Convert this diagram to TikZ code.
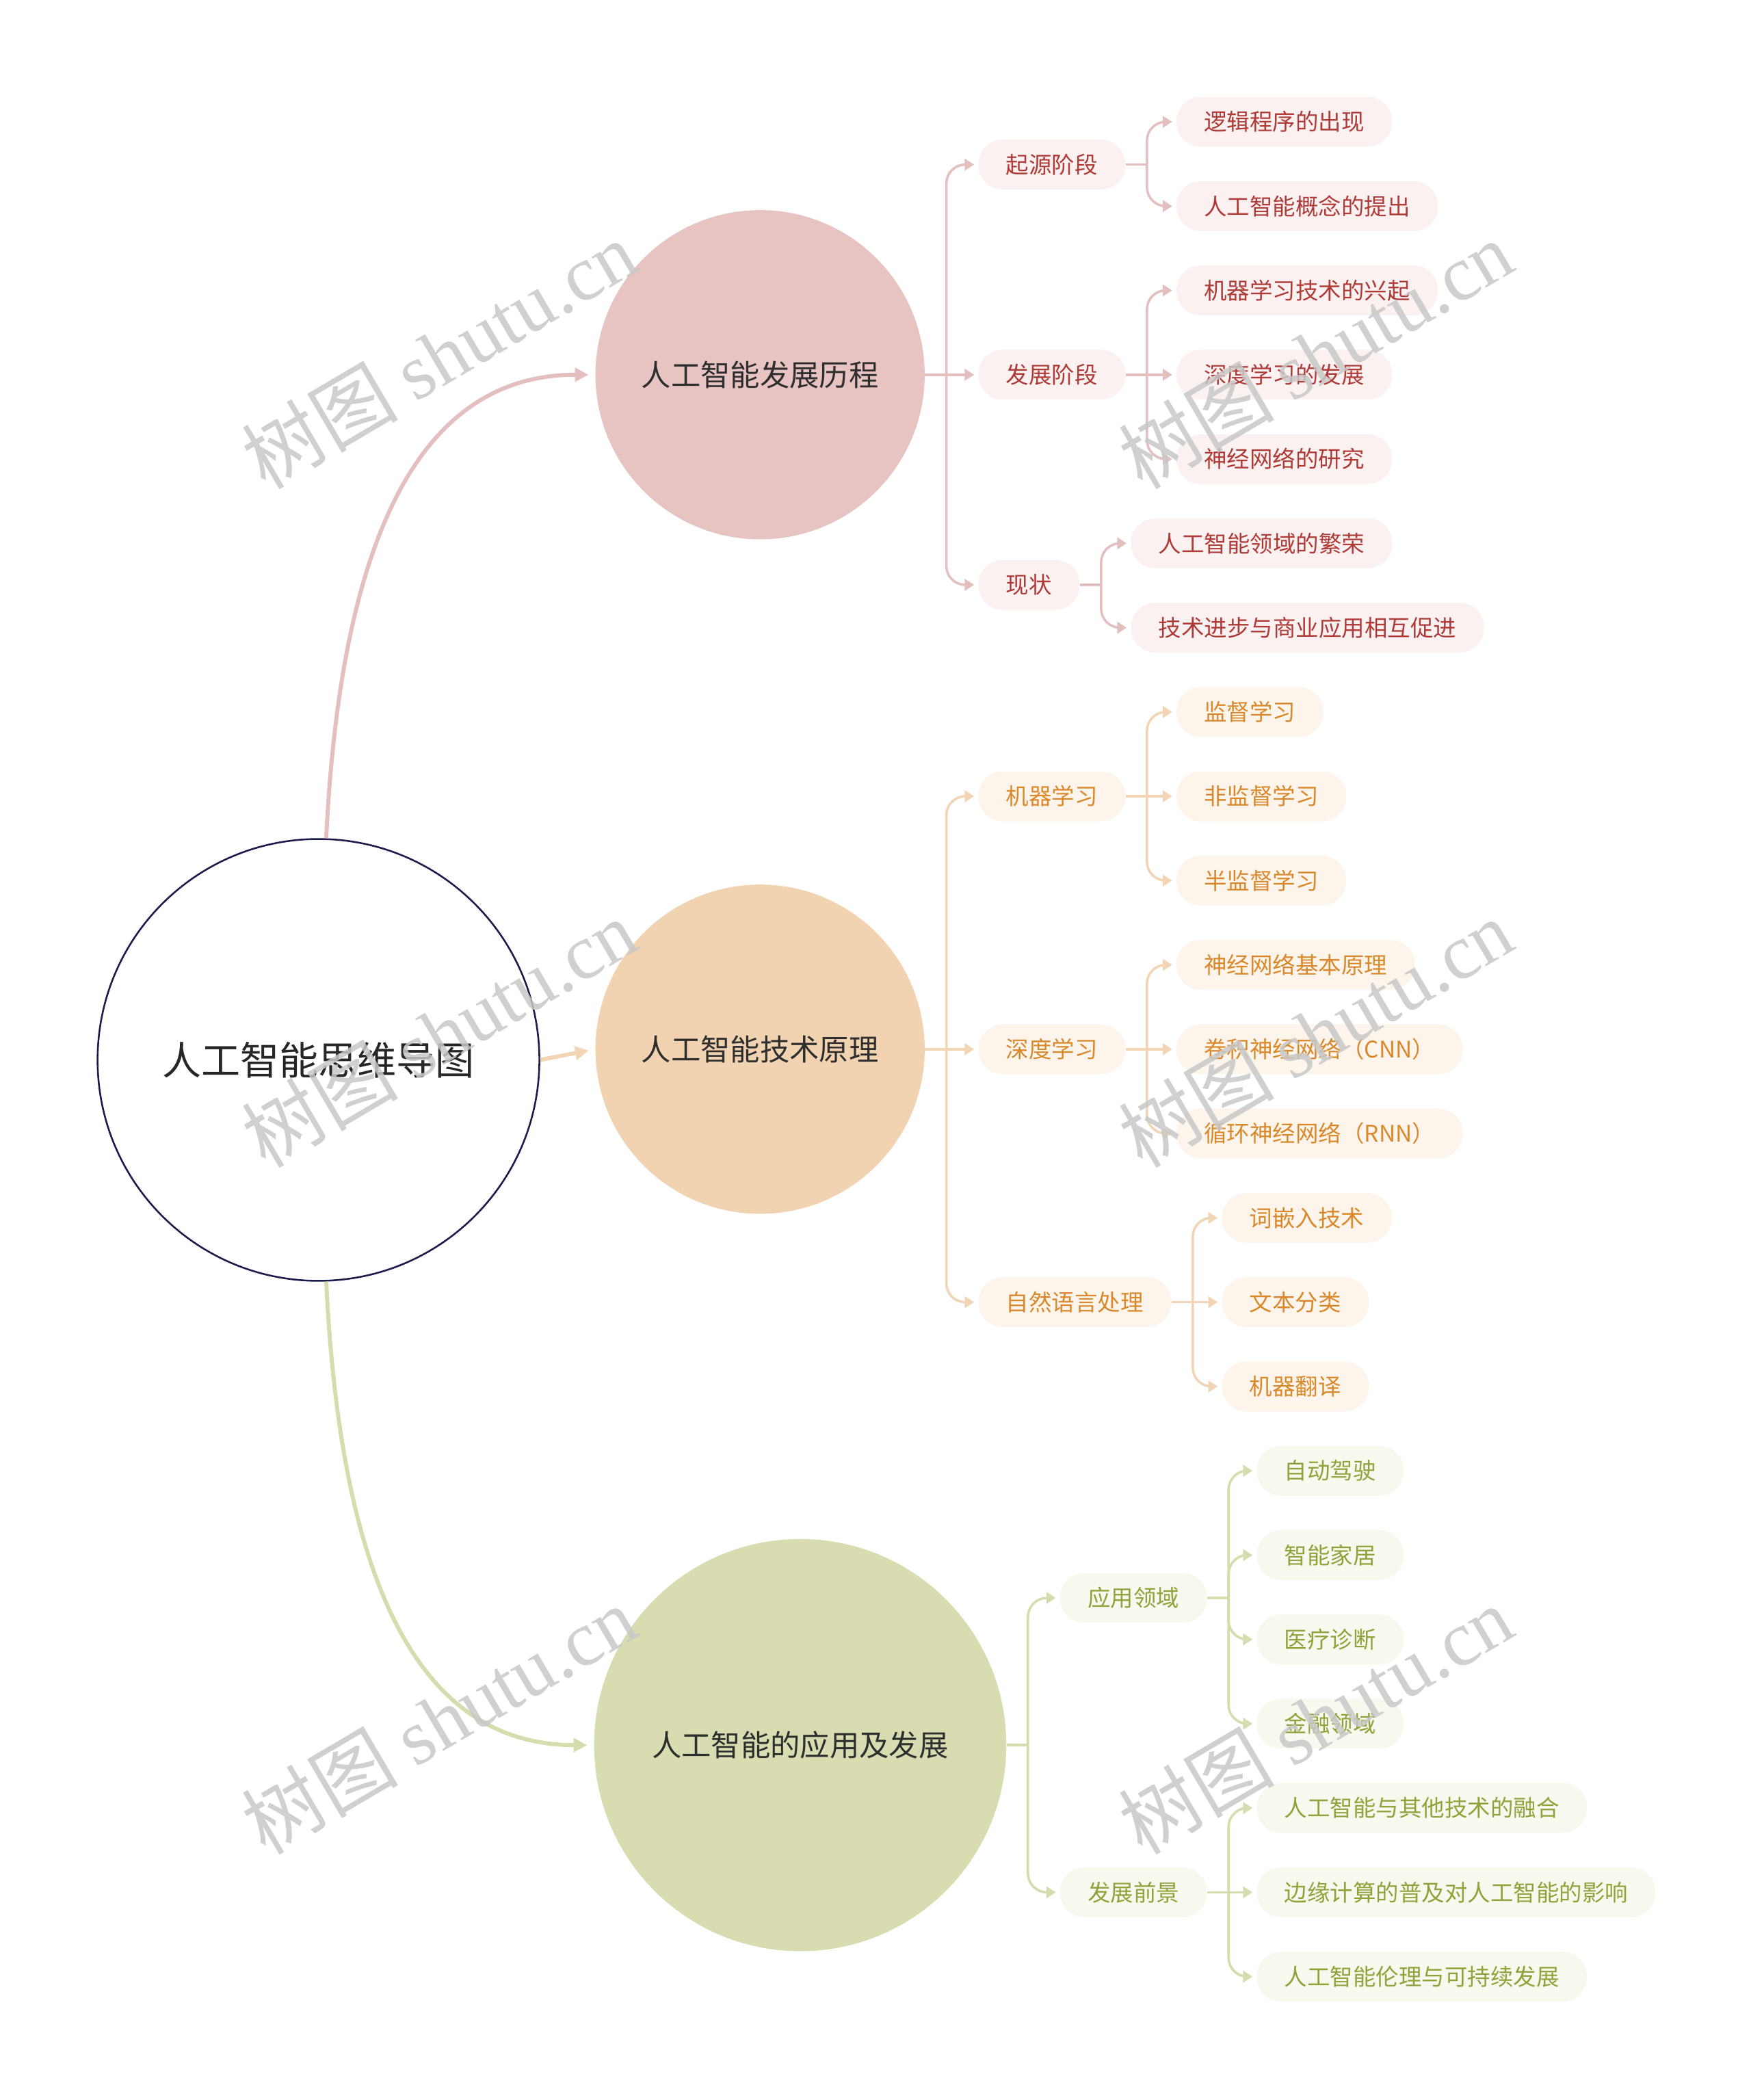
\documentclass[tikz,border=0pt]{standalone}
\usepackage{fontspec}
\setmainfont{Noto Sans CJK SC}
\newfontfamily\wmcjk{Noto Sans CJK SC}
\newfontfamily\wmlat{Liberation Serif}
\usetikzlibrary{arrows.meta}
\definecolor{rootc}{HTML}{1B1B4D}
\definecolor{pkL}{HTML}{E3C0BF}
\definecolor{pkC}{HTML}{E7C3C2}
\definecolor{pkF}{HTML}{FBF1F0}
\definecolor{pkT}{HTML}{AE3B38}
\definecolor{orL}{HTML}{F1D5B5}
\definecolor{orC}{HTML}{F1D3B1}
\definecolor{orF}{HTML}{FDF5EC}
\definecolor{orT}{HTML}{D9892B}
\definecolor{grL}{HTML}{D6DCAE}
\definecolor{grC}{HTML}{D9DCB0}
\definecolor{grF}{HTML}{F7F8EE}
\definecolor{grT}{HTML}{8FA33B}
\definecolor{wmc}{HTML}{C8C8C8}
\tikzset{
  rootnode/.style={circle, draw=rootc, line width=1.3pt, fill=white, minimum size=328pt, inner sep=0pt, font=\fontsize{29}{34}\selectfont, text=black!85},
  mainnode/.style={circle, minimum size=244.4pt, inner sep=0pt, font=\fontsize{22}{26}\selectfont, text=black!82},
  pill/.style={rectangle, rounded corners=18pt, minimum height=37pt, inner xsep=20.5pt, inner ysep=0pt, anchor=west, font=\fontsize{17}{20}\selectfont},
  pkpill/.style={pill, fill=pkF, text=pkT},
  orpill/.style={pill, fill=orF, text=orT},
  grpill/.style={pill, fill=grF, text=grT},
  mainarrow/.style={line width=3pt, -{Triangle[length=10pt,width=10pt]}, shorten >=5pt},
  br/.style={line width=1.8pt, rounded corners=14pt},
  bra/.style={br, -{Triangle[length=7pt,width=8.5pt]}, shorten >=3pt},
  wm/.style={text=wmc, text opacity=0.85, font=\fontsize{58}{58}\selectfont, rotate=30.5}
}
\begin{document}
\begin{tikzpicture}[x=0.9935pt,y=-0.9935pt]
\useasboundingbox (0,0) rectangle (1308.5,1569.2);
\fill[white] (0,0) rectangle (1308.5,1569.2);

% main nodes
\node[rootnode] (root) at (238,792) {人工智能思维导图};
\node[mainnode, fill=pkC] (m1) at (568,280) {人工智能发展历程};
\node[mainnode, fill=orC] (m2) at (568,784) {人工智能技术原理};
\node[mainnode, fill=grC, minimum size=306pt] (m3) at (598,1304) {人工智能的应用及发展};

% main connectors
\draw[mainarrow, draw=pkL] (root.88) .. controls +(11,-227) and +(-130,0) .. (m1.west);
\draw[mainarrow, draw=orL] (root.east) -- (m2.west);
\draw[mainarrow, draw=grL] (root.-88) .. controls +(11,227) and +(-130,0) .. (m3.west);

% ---------- pink branch
\node[pkpill] (a1) at (731,123) {起源阶段};
\node[pkpill] (a2) at (731,280) {发展阶段};
\node[pkpill] (a3) at (731,437) {现状};
\node[pkpill] (a11) at (879,91) {逻辑程序的出现};
\node[pkpill] (a12) at (879,154) {人工智能概念的提出};
\node[pkpill] (a21) at (879,217) {机器学习技术的兴起};
\node[pkpill] (a22) at (879,280) {深度学习的发展};
\node[pkpill] (a23) at (879,343) {神经网络的研究};
\node[pkpill] (a31) at (845,406) {人工智能领域的繁荣};
\node[pkpill] (a32) at (845,469) {技术进步与商业应用相互促进};

\path (m1.east) ++(16,0) coordinate (j1);
\path (a1.east) ++(16,0) coordinate (j11);
\path (a2.east) ++(16,0) coordinate (j21);
\path (a3.east) ++(16,0) coordinate (j31);

\begin{scope}[draw=pkL]
\draw[bra] (m1.east) -- (a2.west);
\draw[bra] (j1) |- (a1.west);
\draw[bra] (j1) |- (a3.west);
\draw[br] (a1.east) -- (j11);
\draw[bra] (j11) |- (a11.west);
\draw[bra] (j11) |- (a12.west);
\draw[bra] (a2.east) -- (a22.west);
\draw[bra] (j21) |- (a21.west);
\draw[bra] (j21) |- (a23.west);
\draw[br] (a3.east) -- (j31);
\draw[bra] (j31) |- (a31.west);
\draw[bra] (j31) |- (a32.west);
\end{scope}

% ---------- orange branch
\node[orpill] (b1) at (731,595) {机器学习};
\node[orpill] (b2) at (731,784) {深度学习};
\node[orpill] (b3) at (731,973) {自然语言处理};
\node[orpill] (b11) at (879,532) {监督学习};
\node[orpill] (b12) at (879,595) {非监督学习};
\node[orpill] (b13) at (879,658) {半监督学习};
\node[orpill] (b21) at (879,721) {神经网络基本原理};
\node[orpill] (b22) at (879,784) {卷积神经网络（CNN）};
\node[orpill] (b23) at (879,847) {循环神经网络（RNN）};
\node[orpill] (b31) at (913,910) {词嵌入技术};
\node[orpill] (b32) at (913,973) {文本分类};
\node[orpill] (b33) at (913,1036) {机器翻译};

\path (m2.east) ++(16,0) coordinate (k1);
\path (b1.east) ++(16,0) coordinate (k11);
\path (b2.east) ++(16,0) coordinate (k21);
\path (b3.east) ++(16,0) coordinate (k31);

\begin{scope}[draw=orL]
\draw[bra] (m2.east) -- (b2.west);
\draw[bra] (k1) |- (b1.west);
\draw[bra] (k1) |- (b3.west);
\draw[bra] (b1.east) -- (b12.west);
\draw[bra] (k11) |- (b11.west);
\draw[bra] (k11) |- (b13.west);
\draw[bra] (b2.east) -- (b22.west);
\draw[bra] (k21) |- (b21.west);
\draw[bra] (k21) |- (b23.west);
\draw[bra] (b3.east) -- (b32.west);
\draw[bra] (k31) |- (b31.west);
\draw[bra] (k31) |- (b33.west);
\end{scope}

% ---------- green branch
\node[grpill] (c1) at (792,1194) {应用领域};
\node[grpill] (c2) at (792,1414) {发展前景};
\node[grpill] (c11) at (939,1099) {自动驾驶};
\node[grpill] (c12) at (939,1162) {智能家居};
\node[grpill] (c13) at (939,1225) {医疗诊断};
\node[grpill] (c14) at (939,1288) {金融领域};
\node[grpill] (c21) at (939,1351) {人工智能与其他技术的融合};
\node[grpill] (c22) at (939,1414) {边缘计算的普及对人工智能的影响};
\node[grpill] (c23) at (939,1477) {人工智能伦理与可持续发展};

\path (m3.east) ++(16,0) coordinate (l1);
\path (c1.east) ++(16,0) coordinate (l11);
\path (c2.east) ++(16,0) coordinate (l21);

\begin{scope}[draw=grL]
\draw[br] (m3.east) -- (l1);
\draw[bra] (l1) |- (c1.west);
\draw[bra] (l1) |- (c2.west);
\draw[br] (c1.east) -- (l11);
\draw[bra] (l11) |- (c11.west);
\draw[bra] (l11) |- (c12.west);
\draw[bra] (l11) |- (c13.west);
\draw[bra] (l11) |- (c14.west);
\draw[bra] (c2.east) -- (c22.west);
\draw[bra] (l21) |- (c21.west);
\draw[bra] (l21) |- (c23.west);
\end{scope}

% ---------- watermarks
\foreach \wx/\wy [count=\i] in {328/265, 983/265, 328/772, 983/772, 328/1285, 983/1285}{
  \node[wm] (wm\i) at (\wx,\wy) {{\wmcjk 树图} {\wmlat shutu.cn}};
}
\end{tikzpicture}
\end{document}
